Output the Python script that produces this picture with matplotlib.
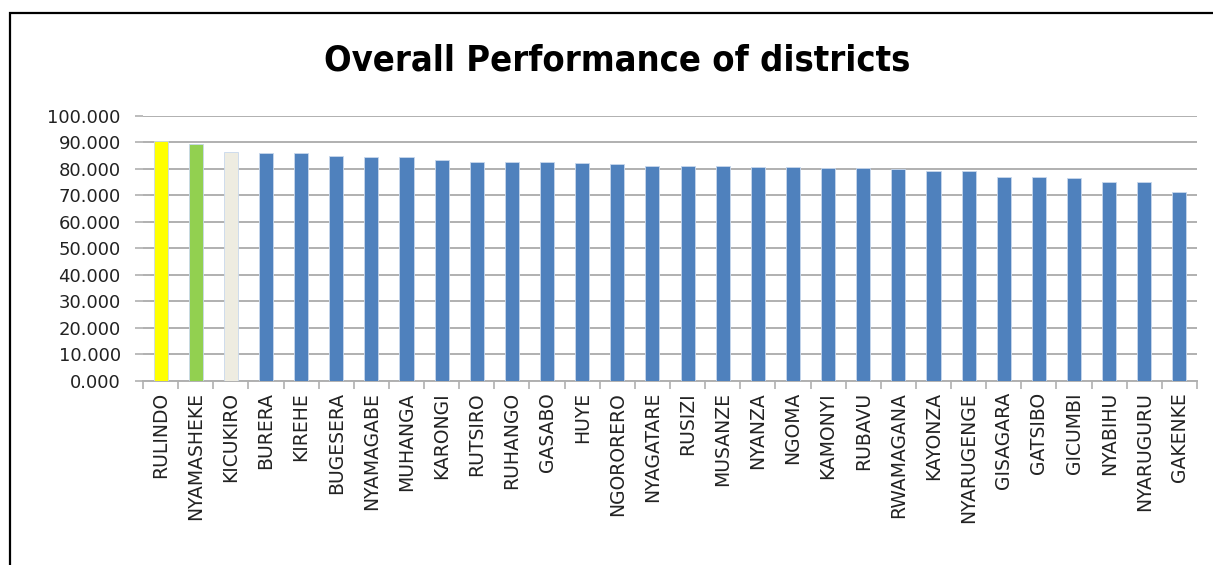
# -*- coding: utf-8 -*-
"""
Overall performance of districts - bar chart
"""

import numpy as np
import matplotlib.pyplot as plt
from matplotlib.patches import Rectangle
from matplotlib.ticker import FixedLocator, FormatStrFormatter

# Input data
districts = ['RULINDO', 'NYAMASHEKE', 'KICUKIRO', 'BURERA', 'KIREHE', 'BUGESERA',
             'NYAMAGABE', 'MUHANGA', 'KARONGI', 'RUTSIRO', 'RUHANGO', 'GASABO',
             'HUYE', 'NGORORERO', 'NYAGATARE', 'RUSIZI', 'MUSANZE', 'NYANZA',
             'NGOMA', 'KAMONYI', 'RUBAVU', 'RWAMAGANA', 'KAYONZA', 'NYARUGENGE',
             'GISAGARA', 'GATSIBO', 'GICUMBI', 'NYABIHU', 'NYARUGURU', 'GAKENKE']
scores = [90.5, 89.5, 86.4, 86.1, 86.1, 84.7,
          84.3, 84.3, 83.4, 82.5, 82.5, 82.5,
          82.2, 81.7, 81.2, 81.2, 81.2, 80.8,
          80.8, 80.2, 80.2, 80.1, 79.3, 79.0,
          76.8, 76.8, 76.4, 75.1, 75.1, 71.2]
bar_colors = ['#FFFF00', '#92D050', '#EEECE1'] + ['#4F81BD'] * 27
y_ticks = np.arange(0, 101, 10)

plt.rcParams['font.family'] = ['DejaVu Sans']

fig = plt.figure(figsize=(12.13, 5.65), dpi=100)
ax = fig.add_axes([0.1179, 0.3257, 0.8689, 0.4695])

x = np.arange(len(districts))
ax.bar(x, scores, width=0.4, color=bar_colors, edgecolor='#C8D8EC',
       linewidth=0.6, zorder=3)

ax.set_xlim(-0.5, len(districts) - 0.5)
ax.set_ylim(0, 100)
ax.set_yticks(y_ticks)
ax.yaxis.set_major_formatter(FormatStrFormatter('%.3f'))
ax.yaxis.grid(True, color='#B0B0B0', linewidth=1.4, zorder=0)
ax.tick_params(axis='y', length=6, color='#B0B0B0', width=1.2,
               labelsize=13, labelcolor='#222222', pad=10)

ax.set_xticks(x)
ax.set_xticklabels(districts, rotation=90, fontsize=13.5, color='#222222')
ax.tick_params(axis='x', which='major', length=0, pad=8)
ax.xaxis.set_minor_locator(FixedLocator(np.arange(-0.5, len(districts), 1)))
ax.tick_params(axis='x', which='minor', length=6, color='#B0B0B0', width=1.2)

for side in ['top', 'right', 'left']:
    ax.spines[side].set_visible(False)
ax.spines['bottom'].set_color('#B0B0B0')
ax.spines['bottom'].set_linewidth(1.4)

fig.text(0.509, 0.893, 'Overall Performance of districts', ha='center',
         va='center', fontsize=26, fontweight='bold', fontstretch='condensed',
         family=['DejaVu Sans'])

# chart frame
fig.patches.append(Rectangle((0.008, -0.05), 1.1, 1.027, transform=fig.transFigure,
                             fill=False, edgecolor='black', linewidth=1.6))

fig.savefig('out.png', dpi=100)
